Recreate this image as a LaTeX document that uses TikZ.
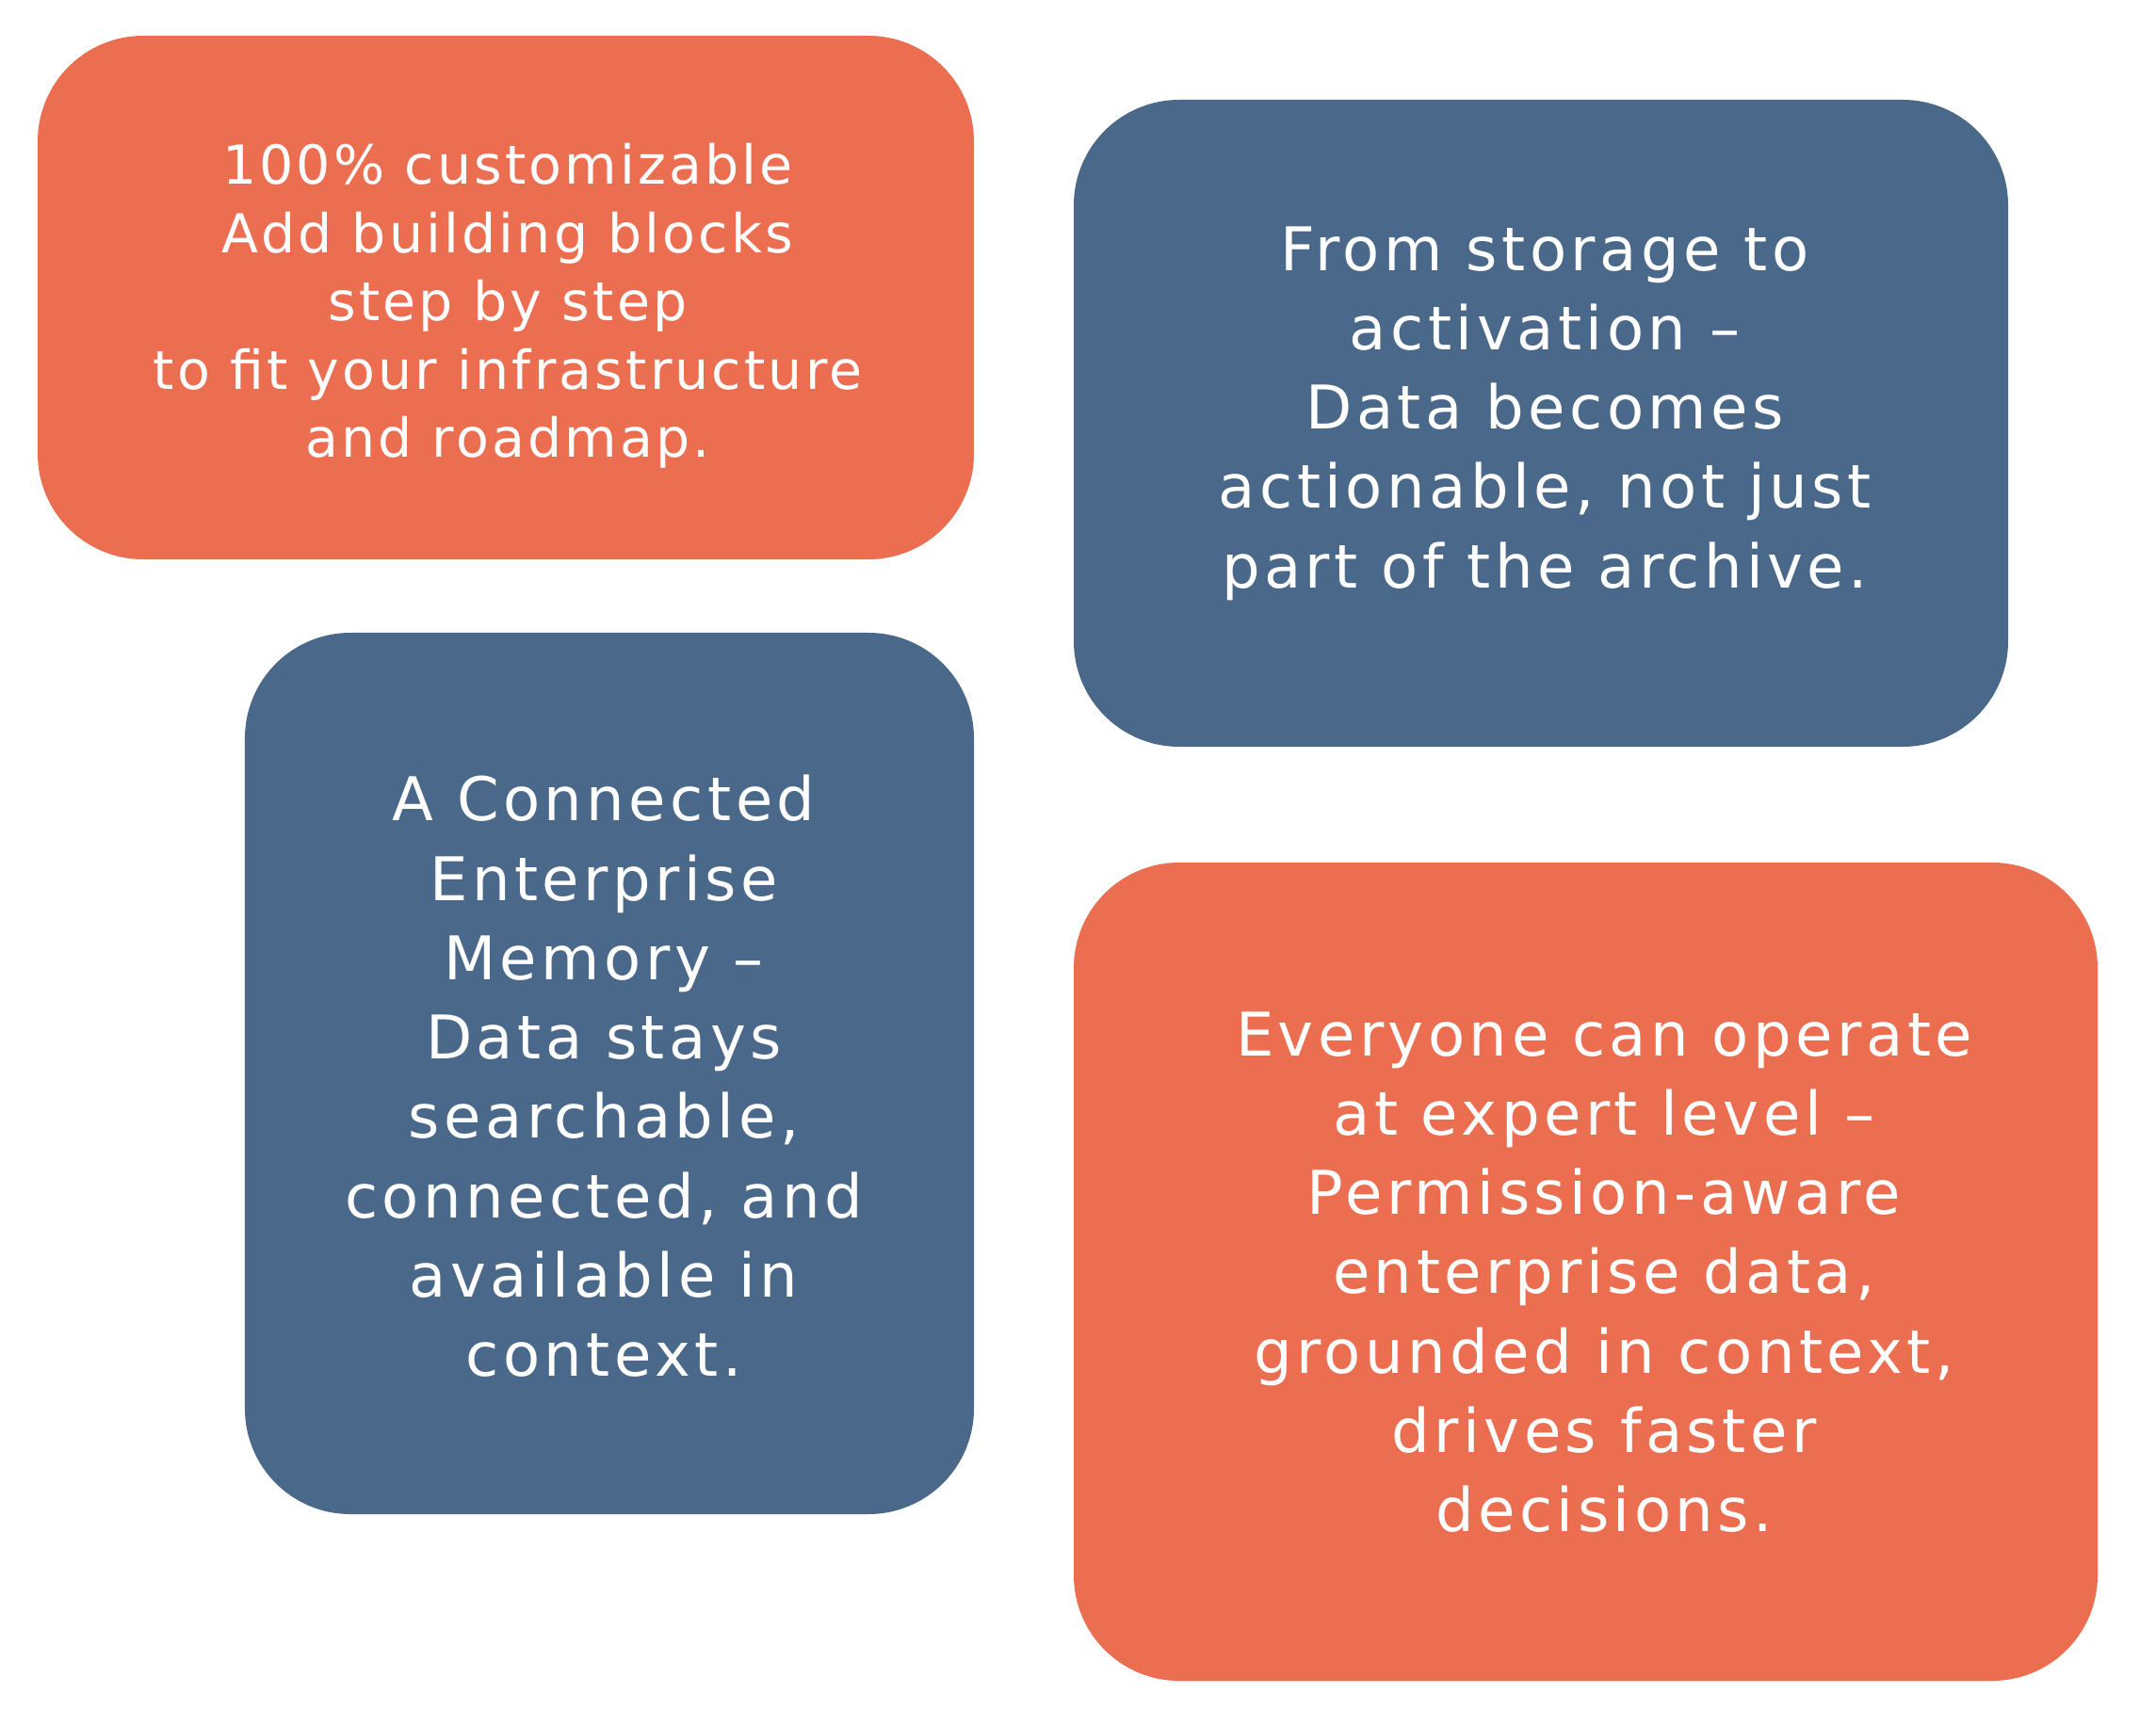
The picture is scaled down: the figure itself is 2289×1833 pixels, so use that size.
\documentclass[tikz,border=0pt]{standalone}
\usepackage{fontspec}
\setmainfont{DejaVu Sans}[LetterSpace=5.5]
\newfontfamily\bigfont{DejaVu Sans}[LetterSpace=7.0]
\definecolor{boxorange}{RGB}{236,110,80}
\definecolor{boxblue}{RGB}{74,104,137}
\begin{document}
\begin{tikzpicture}[x=0.4pt,y=-0.4pt,
  card/.style={rectangle, rounded corners=44.8pt, inner sep=0pt, outer sep=0pt, draw=none},
  orangecard/.style={card, fill=boxorange},
  bluecard/.style={card, fill=boxblue},
  smalltext/.style={text=white, align=center, inner sep=0pt, font=\fontsize{22.8pt}{29pt}\selectfont},
  bigtext/.style={text=white, align=center, inner sep=0pt, font=\bigfont\fontsize{25.6pt}{33.7pt}\selectfont}]
\useasboundingbox[fill=white] (0,0) rectangle (2289,1833);
% boxes
\node[orangecard, minimum width=397.6pt, minimum height=222.4pt] (b1) at (537,316) {};
\node[bluecard, minimum width=396.8pt, minimum height=274.8pt] (b2) at (1636,449.5) {};
\node[bluecard, minimum width=309.6pt, minimum height=374.4pt] (b3) at (647,1140) {};
\node[orangecard, minimum width=434.8pt, minimum height=347.6pt] (b4) at (1683.5,1350.5) {};
% texts
\node[smalltext] (t1) at (539,325) {100\% customizable\\Add building blocks\\step by step\\to fit your infrastructure\\and roadmap.};
\node[bigtext] (t2) at (1640,439) {From storage to\\activation –\\Data becomes\\actionable, not just\\part of the archive.};
\node[bigtext] (t3) at (641,1143) {A Connected\\Enterprise\\Memory –\\Data stays\\searchable,\\connected, and\\available in\\context.};
\node[bigtext] (t4) at (1703,1351) {Everyone can operate\\at expert level –\\Permission-aware\\enterprise data,\\grounded in context,\\drives faster\\decisions.};
\end{tikzpicture}
\end{document}
